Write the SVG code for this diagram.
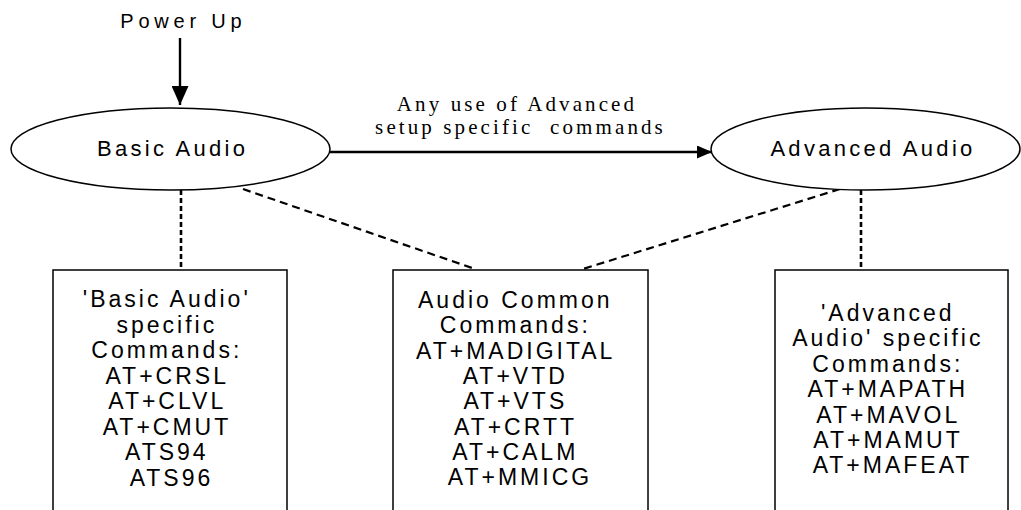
<svg xmlns="http://www.w3.org/2000/svg" width="1021" height="510" viewBox="0 0 1021 510">
<style>
  .sans { font-family: "Liberation Sans", Arial, sans-serif; fill: #000; text-anchor: middle; }
  .lbl { font-size: 22px; letter-spacing: 3.3px; }
  .box-t { font-size: 23px; letter-spacing: 3px; }
  .pu { font-size: 20px; letter-spacing: 4.8px; }
  .serif { font-family: "Liberation Serif", "Times New Roman", serif; font-size: 21px; letter-spacing: 3.1px; fill: #000; text-anchor: middle; white-space: pre; }
  .shape { fill: #fff; stroke: #000; stroke-width: 1.5; }
  .solid { stroke: #000; stroke-width: 2.4; fill: none; }
  .dash-v { stroke: #000; stroke-width: 2.6; stroke-dasharray: 5 3; fill: none; }
  .dash-d { stroke: #000; stroke-width: 2.2; stroke-dasharray: 8 5; fill: none; }
</style>
<defs>
  <marker id="headBig" markerUnits="userSpaceOnUse" markerWidth="19" markerHeight="17" refX="19" refY="8.5" orient="auto">
    <path d="M0,0 L19,8.5 L0,17 z" fill="#000"/>
  </marker>
  <marker id="headSmall" markerUnits="userSpaceOnUse" markerWidth="15" markerHeight="13" refX="15" refY="6.5" orient="auto">
    <path d="M0,0 L15,6.5 L0,13 z" fill="#000"/>
  </marker>
</defs>
<rect width="1021" height="510" fill="#fff"/>

<g id="connectors">
  <line class="solid" x1="180" y1="38" x2="180" y2="105" marker-end="url(#headBig)"/>
  <line class="solid" x1="330" y1="152" x2="712" y2="152" marker-end="url(#headSmall)"/>
  <line class="dash-v" x1="181" y1="190" x2="181" y2="270"/>
  <line class="dash-v" x1="861" y1="190" x2="861" y2="270"/>
  <line class="dash-d" x1="243" y1="189" x2="475" y2="269"/>
  <line class="dash-d" x1="840" y1="189" x2="583" y2="269"/>
  <text class="serif" x="517" y="111">Any use of Advanced</text>
  <text class="serif" x="520.5" y="134">setup specific  commands</text>
</g>

<g id="power-up">
  <text class="sans pu" x="183.4" y="28">Power Up</text>
</g>

<g id="basic-audio">
  <ellipse class="shape" cx="170.5" cy="149" rx="159.5" ry="41"/>
  <text class="sans lbl" x="172.6" y="156">Basic Audio</text>
</g>

<g id="advanced-audio">
  <ellipse class="shape" cx="865.5" cy="149" rx="154.5" ry="41"/>
  <text class="sans lbl" x="873" y="156">Advanced Audio</text>
</g>

<g id="basic-commands">
  <rect class="shape" x="53" y="270" width="234" height="260"/>
  <text class="sans box-t" x="171.5" y="307">
    <tspan x="171.5" y="307">'Basic Audio'</tspan>
    <tspan x="171.5" y="332.5">specific</tspan>
    <tspan x="171.5" y="358">Commands:</tspan>
    <tspan x="171.5" y="383.5">AT+CRSL</tspan>
    <tspan x="171.5" y="409">AT+CLVL</tspan>
    <tspan x="171.5" y="434.5">AT+CMUT</tspan>
    <tspan x="171.5" y="460">ATS94</tspan>
    <tspan x="171.5" y="485.5">ATS96</tspan>
  </text>
</g>

<g id="common-commands">
  <rect class="shape" x="393" y="270" width="255" height="260"/>
  <text class="sans box-t" x="520" y="308">
    <tspan x="520" y="308">Audio Common</tspan>
    <tspan x="520" y="333.3">Commands:</tspan>
    <tspan x="520" y="358.6">AT+MADIGITAL</tspan>
    <tspan x="520" y="383.9">AT+VTD</tspan>
    <tspan x="520" y="409.2">AT+VTS</tspan>
    <tspan x="520" y="434.5">AT+CRTT</tspan>
    <tspan x="520" y="459.8">AT+CALM</tspan>
    <tspan x="520" y="485.1">AT+MMICG</tspan>
  </text>
</g>

<g id="advanced-commands">
  <rect class="shape" x="775" y="270" width="233" height="260"/>
  <text class="sans box-t" x="892.5" y="321">
    <tspan x="892.5" y="321">'Advanced</tspan>
    <tspan x="892.5" y="346.4">Audio' specific</tspan>
    <tspan x="892.5" y="371.8">Commands:</tspan>
    <tspan x="892.5" y="397.2">AT+MAPATH</tspan>
    <tspan x="892.5" y="422.6">AT+MAVOL</tspan>
    <tspan x="892.5" y="448">AT+MAMUT</tspan>
    <tspan x="892.5" y="473.4">AT+MAFEAT</tspan>
  </text>
</g>
</svg>
